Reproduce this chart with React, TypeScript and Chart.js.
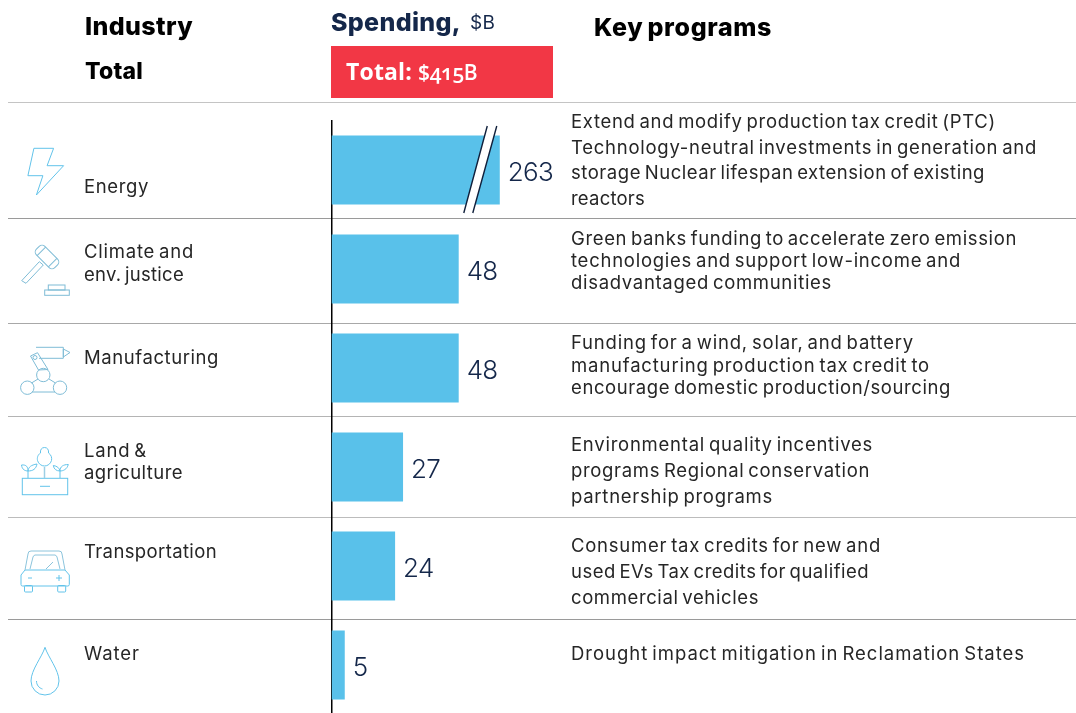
import React, { useEffect, useRef } from "react";
import { Chart, registerables } from "chart.js";

Chart.register(...registerables);

const categories = ["Energy", "Climate and env. justice", "Manufacturing", "Land & agriculture", "Transportation", "Water"];
const spending = [263, 48, 48, 27, 24, 5];
// The Energy bar is cut by an axis break, so its drawn length differs from its value.
const drawnLengths = [63.5, 48, 48, 27, 24, 5];
const brokenCategory = "Energy";

const industryText = ["Energy", "Climate and", "env. justice", "Manufacturing", "Land &", "agriculture", "Transportation", "Water"];
const programText = [
  "Extend and modify production tax credit (PTC)",
  "Technology-neutral investments in generation and",
  "storage Nuclear lifespan extension of existing",
  "reactors",
  "Green banks funding to accelerate zero emission",
  "technologies and support low-income and",
  "disadvantaged communities",
  "Funding for a wind, solar, and battery",
  "manufacturing production tax credit to",
  "encourage domestic production/sourcing",
  "Environmental quality incentives",
  "programs Regional conservation",
  "partnership programs",
  "Consumer tax credits for new and",
  "used EVs Tax credits for qualified",
  "commercial vehicles",
  "Drought impact mitigation in Reclamation States",
];

// Layout: centre line and right edge of each text line, parallel to the text lists.
const industryY = [186, 251, 274, 357, 450, 472, 551, 653];
const industryEnd = [149, 194, 184, 219, 147, 183, 217, 140];
const programY = [121, 147, 172, 198, 238, 260, 282, 342, 365, 387, 444, 470, 496, 545, 571, 597, 653];
const programEnd = [996, 1037, 985, 645, 1017, 961, 832, 914, 930, 951, 873, 870, 773, 881, 869, 759, 1025];

const FONT = "Inter, sans-serif";
const HUMAN = "'Open Sans', sans-serif";
const NAVY = "#14274a";
const BLUE = "#59c1ea";
const RED = "#f23745";
const INK = "#262626";

type Line = { t: string; x: number; end: number; y: number; s: number; w?: number; c?: string; f?: string; ws?: number; feat?: string };

const headerLines: Line[] = [
  { t: "Industry", x: 85, end: 193, y: 26, s: 25, w: 800, c: "#000" },
  { t: "Total", x: 85, end: 143, y: 71, s: 23, w: 800, c: "#000" },
  { t: "Spending,", x: 331, end: 461, y: 22, s: 25, w: 800, c: NAVY },
  { t: "$B", x: 470, end: 495, y: 23, s: 19, w: 400, c: NAVY },
  { t: "Key programs", x: 594, end: 772, y: 27, s: 25, w: 800, c: "#000", ws: -2 },
  { t: "Total:", x: 346, end: 412, y: 71, s: 23, w: 700, c: "#fff", f: HUMAN },
  { t: "$415B", x: 418, end: 478, y: 72, s: 21, w: 600, c: "#fff", f: HUMAN, feat: "'onum' 1" },
];

const industryLines: Line[] = industryText.map((t, i) => ({ t, x: 84, end: industryEnd[i], y: industryY[i], s: 18.5, ws: -2 }));
const programLines: Line[] = programText.map((t, i) => ({ t, x: 571, end: programEnd[i], y: programY[i], s: 18.5, ws: -2 }));

const separators: { y: number; h: number; c: string }[] = [
  { y: 101.5, h: 1.5, c: "#c4c4c4" },
  { y: 218, h: 1, c: "#9a9a9a" },
  { y: 323, h: 1, c: "#a8a8a8" },
  { y: 416, h: 1, c: "#b4b4b4" },
  { y: 517, h: 1, c: "#bcbcbc" },
  { y: 619, h: 1, c: "#9a9a9a" },
];

const measureCtx = document.createElement("canvas").getContext("2d") as CanvasRenderingContext2D;
function fitSpacing(l: Line) {
  measureCtx.font = `${l.w ?? 400} ${l.s}px ${l.f ?? FONT}`;
  (measureCtx as any).wordSpacing = `${l.ws ?? 0}px`;
  const width = measureCtx.measureText(l.t).width;
  return (l.end - l.x - width) / l.t.length;
}

function Text({ l }: { l: Line }) {
  return (
    <div
      style={{
        position: "absolute",
        left: l.x,
        top: l.y - 20,
        height: 40,
        lineHeight: "40px",
        fontFamily: l.f ?? FONT,
        fontSize: l.s,
        fontWeight: l.w ?? 400,
        color: l.c ?? INK,
        letterSpacing: fitSpacing(l),
        wordSpacing: l.ws ?? 0,
        fontFeatureSettings: l.feat,
        whiteSpace: "nowrap",
      }}
    >
      {l.t}
    </div>
  );
}

function Icons() {
  const sky = { fill: "none", stroke: "#62c3ea", strokeWidth: 1 };
  const steel = { fill: "none", stroke: "#7fbcd6", strokeWidth: 1 };
  return (
    <svg width={1076} height={713} style={{ position: "absolute", left: 0, top: 0 }}>
      <polygon {...sky} points="33.9,148.3 53.6,148.3 47.1,165.7 63.6,165.7 36.4,195 42.9,175.7 27.9,175.700" />
      <g {...steel}>
        <g transform="rotate(-45 47 257)">
          <rect x={41} y={244} width={12} height={26} rx={4} />
          <line x1={41} y1={249} x2={53} y2={249} />
          <line x1={41} y1={265} x2={53} y2={265} />
        </g>
        <polygon points="39.3,261.7 43.3,265 26,283.3 21.7,280.7" />
        <rect x={44.7} y={290} width={24.6} height={5.3} />
        <rect x={48.3} y={285} width={16.7} height={5} />
      </g>
      <g {...steel}>
        <circle cx={27.3} cy={387.7} r={6.7} />
        <circle cx={60} cy={387.7} r={6.7} />
        <circle cx={43.3} cy={375} r={6.7} />
        <line x1={32} y1={392} x2={55} y2={392} />
        <line x1={31.5} y1={383} x2={38} y2={379} />
        <line x1={55.5} y1={383} x2={49} y2={379} />
        <polygon points="30.5,356 37.5,352.7 48,369.500 38.500,370" />
        <circle cx={35} cy={357.5} r={2} />
        <polyline points="36,347.3 63.3,347.3 63.3,358.3 39,358.3" />
        <polygon points="63.3,349 70,352.5 63.3,357" />
      </g>
      <g {...sky}>
        <rect x={22.3} y={478.3} width={45.4} height={16.4} />
        <line x1={40} y1={486.3} x2={50} y2={486.3} />
        <line x1={44.5} y1={467} x2={44.5} y2={478} strokeWidth={1.5} stroke="#9ccfe4" />
        <path d="M44.5 447.5c-3 0-4.5 2.500-4 5.500c-3 2-3.500 5-3 7.500c1 3.500 4 5.500 7 5.500s6-2 7-5.500c.5-2.500 0-5.500-3-7.500c.5-3-1-5.500-4-5.500z" />
        <path d="M28 478v-7M28 471c-3 0-6-1.500-6.500-6c5-.5 6.500 2 6.500 6zM28 471c.5-4 3-6 9-7c-1 5-4 7-9 7z" />
        <path d="M60 478v-7M60 471c3 0 7-1.500 8.300-6.500c-5 0-8.300 2-8.300 6.500zM60 471c-.5-3-3-5-6.700-5.500c.5 3.500 3 5.500 6.700 5.500z" />
      </g>
      <g {...sky}>
        <path d="M21 575l4-5h40l4.300 5v9.500a1.500 1.500 0 0 1-1.500 1.500h-45.300a1.500 1.500 0 0 1-1.500-1.500z" />
        <path d="M25 570l3-16a3 3 0 0 1 3-3h28a3 3 0 0 1 3 3l3 16" stroke="#8cc4dc" />
        <path d="M30 569l3-12a3 3 0 0 1 2-2h20a3 3 0 0 1 2 2l3 12" stroke="#8cc4dc" />
        <line x1={46} y1={569} x2={53} y2={562} stroke="#8cc4dc" />
        <rect x={24.5} y={585.500} width={8} height={6.500} rx={1} />
        <rect x={57.700} y={585.500} width={8} height={6.500} rx={1} />
        <line x1={28} y1={578} x2={32} y2={578} />
        <line x1={56} y1={578} x2={62} y2={578} />
        <line x1={59} y1={575} x2={59} y2={581} />
      </g>
      <g {...sky}>
        <path d="M45 647.300C42 657 31 670 31 681a14 14 0 0 0 28 0C59 670 48 657 45 647.300z" />
        <path d="M36.500 681c0 4 2.500 7 6 8" />
      </g>
    </svg>
  );
}

export default function App() {
  const ref = useRef<HTMLCanvasElement | null>(null);

  useEffect(() => {
    if (!ref.current) return;
    const valueLabels = {
      id: "valueLabels",
      afterDatasetsDraw(chart: any) {
        const { ctx } = chart;
        const bars = chart.getDatasetMeta(0).data;
        ctx.save();
        ctx.font = `300 26px ${FONT}`;
        (ctx as any).letterSpacing = "-0.7px";
        ctx.fillStyle = NAVY;
        ctx.textBaseline = "middle";
        bars.forEach((bar: any, i: number) => {
          ctx.fillText(String(spending[i]), bar.x + 8, bar.y + 3);
        });
        ctx.restore();
      },
    };
    const axisBreak = {
      id: "axisBreak",
      afterDatasetsDraw(chart: any) {
        const i = categories.indexOf(brokenCategory);
        const bar = chart.getDatasetMeta(0).data[i];
        const { ctx } = chart;
        const x = bar.x;
        const y = bar.y;
        const bl = [x - 36, y + 43];
        const tl = [x - 12.5, y - 44];
        const br = [x - 27, y + 43];
        const tr = [x - 3, y - 44];
        ctx.save();
        ctx.fillStyle = "#fff";
        ctx.beginPath();
        ctx.moveTo(bl[0], bl[1]);
        ctx.lineTo(tl[0], tl[1]);
        ctx.lineTo(tr[0], tr[1]);
        ctx.lineTo(br[0], br[1]);
        ctx.closePath();
        ctx.fill();
        ctx.strokeStyle = "#10203c";
        ctx.lineWidth = 1.4;
        ctx.beginPath();
        ctx.moveTo(bl[0], bl[1]);
        ctx.lineTo(tl[0], tl[1]);
        ctx.moveTo(br[0], br[1]);
        ctx.lineTo(tr[0], tr[1]);
        ctx.stroke();
        ctx.restore();
      },
    };
    const chart = new Chart(ref.current, {
      type: "bar",
      data: {
        labels: categories,
        datasets: [
          {
            label: "Spending, $B",
            data: drawnLengths,
            backgroundColor: BLUE,
            borderWidth: 0,
            barPercentage: 69 / 99,
            categoryPercentage: 1,
          },
        ],
      },
      options: {
        indexAxis: "y",
        animation: false,
        responsive: false,
        maintainAspectRatio: false,
        layout: { padding: { left: 331.5, top: 120.5, right: 2.5, bottom: 1.5 } },
        plugins: { legend: { display: false }, tooltip: { enabled: false } },
        scales: {
          x: { display: false, min: 0, max: 280 },
          y: {
            grid: { display: false, drawTicks: false },
            ticks: { display: false },
            border: { display: true, color: "#000", width: 1.5 },
            afterFit(s: any) {
              s.width = 0;
            },
          },
        },
      },
      plugins: [valueLabels, axisBreak],
    });
    return () => chart.destroy();
  }, []);

  return (
    <div style={{ position: "absolute", left: 0, top: 0, width: 1076, height: 713, overflow: "hidden", background: "#fff" }}>
      {separators.map((s, i) => (
        <div key={i} style={{ position: "absolute", left: 8, right: 0, top: s.y, height: s.h, background: s.c }} />
      ))}
      <div style={{ position: "absolute", left: 331, top: 46, width: 222, height: 52, background: RED }} />
      <canvas ref={ref} width={1076} height={716} style={{ position: "absolute", left: 0, top: 0, display: "block" }} />
      <Icons />
      {[...headerLines, ...industryLines, ...programLines].map((l, i) => (
        <Text key={i} l={l} />
      ))}
    </div>
  );
}
